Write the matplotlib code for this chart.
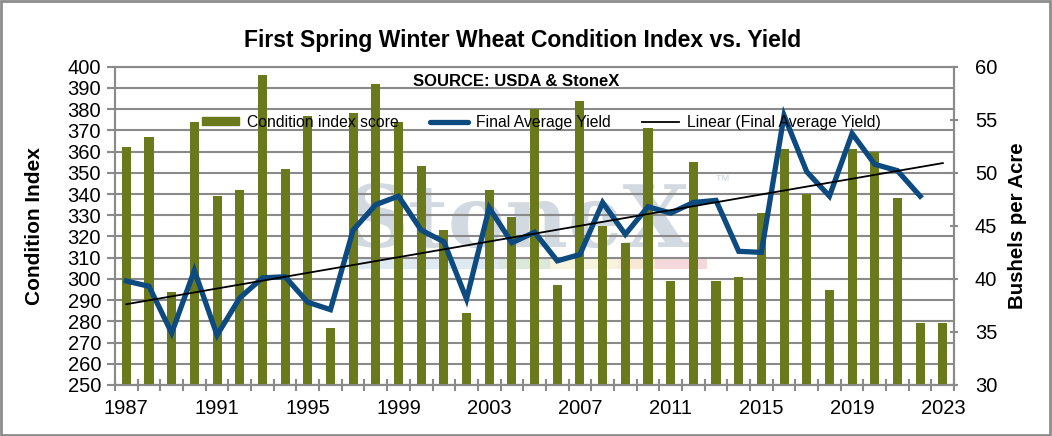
import numpy as np
import matplotlib
matplotlib.use("Agg")
import matplotlib.pyplot as plt
from matplotlib.patches import Rectangle
from matplotlib.lines import Line2D

plt.rcParams['font.family'] = ['Liberation Sans', 'DejaVu Sans']

years = list(range(1987, 2024))
condition = [362, 367, 294, 374, 339, 342, 396, 352, 377, 277,
             378, 392, 374, 353, 323, 284, 342, 329, 380, 297,
             384, 325, 317, 371, 299, 355, 299, 301, 331, 361,
             340, 295, 361, 360, 338, 279, 279]
yield_years = list(range(1987, 2023))
yields = [39.8, 39.3, 34.9, 40.8, 34.7, 38.2, 40.1, 40.2, 37.8, 37.1,
          44.6, 47.0, 47.8, 44.6, 43.5, 38.1, 46.7, 43.4, 44.4, 41.7,
          42.3, 47.2, 44.2, 46.8, 46.2, 47.2, 47.4, 42.6, 42.5, 55.4,
          50.1, 47.8, 53.7, 50.8, 50.2, 47.8]
label_years = [1987, 1991, 1995, 1999, 2003, 2007, 2011, 2015, 2019, 2023]

bar_col = '#6a791b'
line_col = '#0c4a80'
grid_col = '#8a8a8a'

x = np.arange(len(years))
xy = np.arange(len(yields))
# excel style linear trendline, forecast one period forward
k, b = np.polyfit(xy, yields, 1)
trend = k * x + b

fig = plt.figure(figsize=(10.52, 4.36), dpi=100)
ax = fig.add_axes([0.1093, 0.117, 0.7977, 0.730])
ax2 = ax.twinx()

# watermark
ax.text(0.276, 0.51, 'StoneX', transform=ax.transAxes, fontsize=62,
        family='DejaVu Serif', fontweight='bold', color='#d2d9e1',
        va='center', ha='left', zorder=0)
ax.text(0.715, 0.63, '\u2122', transform=ax.transAxes, fontsize=11,
        color='#d2d9e1', zorder=0)
strips = [(0.275, 0.458, '#dfe9f2'), (0.458, 0.518, '#dbe8db'),
          (0.518, 0.600, '#f7f4dd'), (0.600, 0.643, '#f8e9d5'),
          (0.643, 0.706, '#f4d8db')]
for x0, x1, c in strips:
    ax.add_patch(Rectangle((x0, 0.363), x1 - x0, 0.032, transform=ax.transAxes,
                           color=c, lw=0, zorder=0))

ax.bar(x, [v - 250 for v in condition], bottom=250, width=0.4,
       color=bar_col, zorder=3)
ax.set_ylim(250, 400)
ax.set_yticks(range(250, 401, 10))
ax.set_xlim(-0.5, len(years) - 0.5)
ax.grid(axis='y', color=grid_col, lw=1.5, zorder=1)
ax.set_axisbelow(True)

ax2.plot(xy, yields, color=line_col, lw=3.8, zorder=4, solid_joinstyle='miter')
ax2.plot(x, trend, color='black', lw=1.3, zorder=5)
ax2.set_ylim(30, 60)
ax2.set_yticks(range(30, 61, 5))

ax.set_xticks([years.index(y) for y in label_years])
ax.set_xticklabels([str(y) for y in label_years])
ax.set_xticks(np.arange(-0.5, len(years), 1), minor=True)
ax.tick_params(axis='x', which='major', length=0, labelsize=14.5, pad=10)
ax.tick_params(axis='x', which='minor', length=9, direction='inout',
               color=grid_col, width=1.5)
ax.tick_params(axis='y', labelsize=14.5, length=6, color=grid_col, width=1.5, pad=4)
ax2.tick_params(axis='y', labelsize=14.5, length=6, color=grid_col, width=1.5,
                direction='inout', pad=12)

for a in (ax, ax2):
    for s in a.spines.values():
        s.set_color(grid_col)
        s.set_linewidth(1.5)
ax2.spines['top'].set_visible(False)

ax.set_ylabel('Condition Index', fontsize=15, fontweight='bold', labelpad=17)
ax2.set_ylabel('Bushels per Acre', fontsize=14.7, fontweight='bold', labelpad=8)

fig.text(0.497, 0.908, 'First Spring Winter Wheat Condition Index vs. Yield',
         ha='center', va='center', fontsize=16.5, fontweight='bold')
ax.text(0.478, 0.953, 'SOURCE: USDA & StoneX', transform=ax.transAxes,
        ha='center', va='center', fontsize=12, fontweight='bold', zorder=6)

handles = [Rectangle((0, 0), 1, 1, color=bar_col),
           Line2D([], [], color=line_col, lw=3.8, solid_capstyle='round'),
           Line2D([], [], color='black', lw=1.3)]
labels = ['Condition index score', 'Final Average Yield',
          'Linear (Final Average Yield)']
leg = ax2.legend(handles, labels, loc='center', bbox_to_anchor=(0.508, 0.826),
                 ncol=3, frameon=False, fontsize=11.3, handlelength=2.4,
                 handleheight=0.5, columnspacing=2.0, handletextpad=0.5)
leg.set_zorder(6)

fig.add_artist(Rectangle((0.001, 0.002), 0.997, 0.995, transform=fig.transFigure,
                         fill=False, ec='#8c8c8c', lw=2))

fig.savefig('out.png', dpi=100)
